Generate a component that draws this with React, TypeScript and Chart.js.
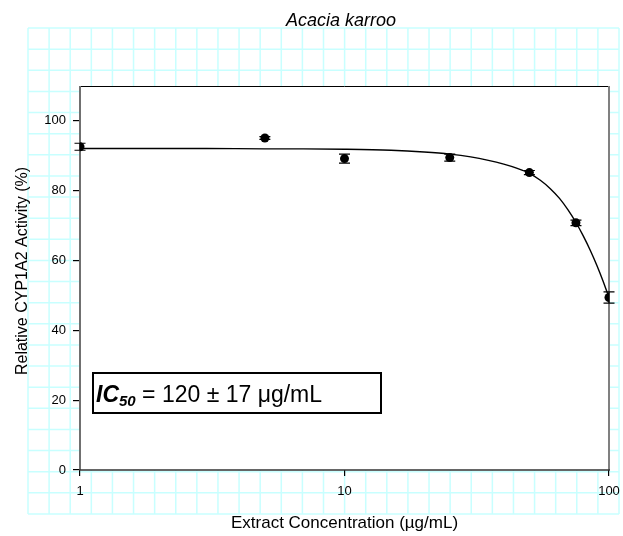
import React, { useEffect, useRef } from "react";
import { Chart, registerables } from "chart.js";

Chart.register(...registerables);

// ---- data ----
const concentrations = [1, 5, 10, 25, 50, 75, 100];
const activity = [92.6, 95.1, 89.2, 89.5, 85.2, 70.8, 49.4];
const activityErr = [1.0, 0.4, 1.3, 1.0, 0.6, 0.8, 1.6];

const fitConc = [1, 2, 3, 5, 7, 10, 15, 20, 25, 30, 35, 40, 45, 50, 55, 60, 65, 70, 75, 80, 85, 90, 95, 100];
const fitActivity = [92.1, 92.1, 92.1, 92.0, 92.0, 91.9, 91.6, 91.1, 90.5, 89.7, 88.7, 87.6, 86.4, 85.0, 83.0, 80.6, 77.8, 74.5, 70.9, 67.0, 62.9, 58.6, 54.1, 49.4];

const xTickValues = [1, 10, 100];
const yTickValues = [0, 20, 40, 60, 80, 100];

const chartTitle = "Acacia karroo";
const xTitle = "Extract Concentration (\u00B5g/mL)";
const yTitle = "Relative CYP1A2 Activity (%)";
const ic50Label = "IC";
const ic50Sub = "50";
const ic50Text = " = 120 \u00B1 17 \u03BCg/mL";

const FONT = "'Liberation Sans', Arial, Helvetica, sans-serif";

const decorPlugin = {
  id: "decor",
  beforeDraw(chart: any) {
    const { ctx, chartArea: a, width, height } = chart;
    ctx.save();
    ctx.fillStyle = "#ffffff";
    ctx.fillRect(0, 0, width, height);
    // graph-paper background
    ctx.strokeStyle = "#c8ffff";
    ctx.lineWidth = 1.5;
    const gx0 = 28, gy0 = 28, gx1 = 619, gy1 = 514;
    const nx = 28, ny = 23;
    for (let i = 0; i <= nx; i++) {
      const x = gx0 + ((gx1 - gx0) * i) / nx;
      ctx.beginPath();
      ctx.moveTo(x, gy0);
      ctx.lineTo(x, gy1);
      ctx.stroke();
    }
    for (let j = 0; j <= ny; j++) {
      const y = gy0 + ((gy1 - gy0) * j) / ny;
      ctx.beginPath();
      ctx.moveTo(gx0, y);
      ctx.lineTo(gx1, y);
      ctx.stroke();
    }
    ctx.fillStyle = "#ffffff";
    ctx.fillRect(a.left, a.top, a.right - a.left, a.bottom - a.top);
    ctx.restore();
  },
  beforeDatasetsDraw(chart: any) {
    const { ctx, chartArea: a } = chart;
    ctx.save();
    ctx.strokeStyle = "#000000";
    ctx.lineWidth = 1;
    ctx.beginPath();
    ctx.moveTo(a.left, a.top + 0.5);
    ctx.lineTo(a.right, a.top + 0.5);
    ctx.stroke();
    ctx.strokeStyle = "#808080";
    ctx.lineWidth = 2;
    ctx.beginPath();
    ctx.moveTo(a.right, a.top);
    ctx.lineTo(a.right, a.bottom);
    ctx.stroke();
    ctx.strokeStyle = "#707070";
    ctx.beginPath();
    ctx.moveTo(a.left, a.top);
    ctx.lineTo(a.left, a.bottom);
    ctx.stroke();
    ctx.strokeStyle = "#333333";
    ctx.lineWidth = 1.5;
    ctx.beginPath();
    ctx.moveTo(a.left - 1, a.bottom);
    ctx.lineTo(a.right + 1, a.bottom);
    ctx.stroke();
    ctx.restore();
  },
  afterDatasetsDraw(chart: any) {
    const { ctx } = chart;
    const xs = chart.scales.x;
    const ys = chart.scales.y;
    ctx.save();
    ctx.strokeStyle = "#000000";
    ctx.lineWidth = 1.2;
    concentrations.forEach((c, i) => {
      const px = xs.getPixelForValue(c);
      const top = ys.getPixelForValue(activity[i] + activityErr[i]);
      const bot = ys.getPixelForValue(activity[i] - activityErr[i]);
      ctx.beginPath();
      ctx.moveTo(px, top);
      ctx.lineTo(px, bot);
      ctx.moveTo(px - 5.5, top);
      ctx.lineTo(px + 5.5, top);
      ctx.moveTo(px - 5.5, bot);
      ctx.lineTo(px + 5.5, bot);
      ctx.stroke();
    });
    ctx.restore();
  },
  afterDraw(chart: any) {
    const { ctx, chartArea: a } = chart;
    ctx.save();
    ctx.fillStyle = "#000000";
    ctx.font = `italic 18px ${FONT}`;
    ctx.textAlign = "center";
    ctx.textBaseline = "alphabetic";
    ctx.fillText(chartTitle, 341, 26);
    ctx.font = `17px ${FONT}`;
    ctx.fillText(xTitle, (a.left + a.right) / 2, 528);
    ctx.save();
    ctx.translate(27, 271);
    ctx.rotate(-Math.PI / 2);
    ctx.font = `16px ${FONT}`;
    ctx.fillText(yTitle, 0, 0);
    ctx.restore();
    // IC50 box
    const bx = a.left + 13, by = 373, bw = 288, bh = 40;
    ctx.fillStyle = "#ffffff";
    ctx.fillRect(bx, by, bw, bh);
    ctx.strokeStyle = "#000000";
    ctx.lineWidth = 2;
    ctx.strokeRect(bx, by, bw, bh);
    ctx.fillStyle = "#000000";
    ctx.textAlign = "left";
    let tx = bx + 3;
    const base = by + 29;
    ctx.font = `italic bold 23px ${FONT}`;
    ctx.fillText(ic50Label, tx, base);
    tx += ctx.measureText(ic50Label).width;
    ctx.font = `italic bold 15px ${FONT}`;
    ctx.fillText(ic50Sub, tx, base + 4);
    tx += ctx.measureText(ic50Sub).width;
    ctx.font = `23px ${FONT}`;
    ctx.fillText(ic50Text, tx, base);
    ctx.restore();
  },
};

export default function App() {
  const canvasRef = useRef<HTMLCanvasElement | null>(null);

  useEffect(() => {
    const canvas = canvasRef.current;
    if (!canvas) return;
    const chart = new Chart(canvas, {
      type: "scatter",
      data: {
        datasets: [
          {
            type: "line",
            data: fitConc.map((c, i) => ({ x: c, y: fitActivity[i] })),
            borderColor: "#000000",
            borderWidth: 1.4,
            pointRadius: 0,
            fill: false,
            cubicInterpolationMode: "monotone",
            order: 2,
          } as any,
          {
            type: "scatter",
            data: concentrations.map((c, i) => ({ x: c, y: activity[i] })),
            backgroundColor: "#000000",
            borderColor: "#000000",
            pointRadius: 4.5,
            pointBorderWidth: 0,
            order: 1,
          } as any,
        ],
      },
      options: {
        animation: false,
        responsive: true,
        maintainAspectRatio: false,
        layout: { padding: { left: 0, right: 14, top: 86, bottom: 0 } },
        plugins: {
          legend: { display: false },
          title: { display: false },
          tooltip: { enabled: false },
        },
        scales: {
          x: {
            type: "logarithmic",
            min: 1,
            max: 100,
            border: { display: false },
            grid: {
              drawOnChartArea: false,
              drawTicks: true,
              tickLength: 6,
              color: "#000000",
              lineWidth: 1.2,
            },
            ticks: {
              autoSkip: false,
              maxRotation: 0,
              padding: 8,
              color: "#000000",
              font: { family: FONT, size: 13 },
              callback: (v: any) => String(v),
            },
            afterBuildTicks: (scale: any) => {
              scale.ticks = xTickValues.map((v) => ({ value: v, major: true }));
            },
            afterFit: (scale: any) => {
              scale.height = 66;
              scale.paddingLeft = 0;
              scale.paddingRight = 0;
            },
          },
          y: {
            type: "linear",
            min: 0,
            max: 110,
            border: { display: false },
            grid: {
              drawOnChartArea: false,
              drawTicks: true,
              tickLength: 7,
              color: "#000000",
              lineWidth: 1.2,
            },
            ticks: {
              padding: 7,
              color: "#000000",
              font: { family: FONT, size: 13 },
            },
            afterBuildTicks: (scale: any) => {
              scale.ticks = yTickValues.map((v) => ({ value: v }));
            },
            afterFit: (scale: any) => {
              scale.width = 80;
              scale.paddingTop = 0;
              scale.paddingBottom = 0;
            },
          },
        },
      },
      plugins: [decorPlugin],
    });
    return () => chart.destroy();
  }, []);

  return (
    <div style={{ position: "fixed", left: 0, top: 0, width: 623, height: 536, background: "#fff" }}>
      <canvas ref={canvasRef} />
    </div>
  );
}
